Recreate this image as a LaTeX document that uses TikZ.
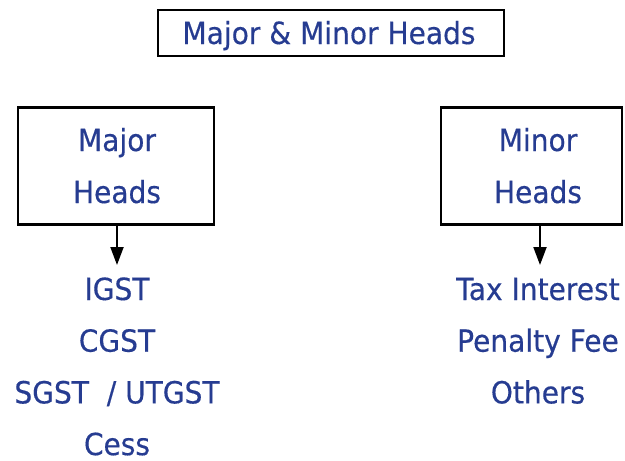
\documentclass[tikz,border=0pt]{standalone}
\usepackage{fontspec}
\setmainfont[FakeStretch=0.92,FakeBold=0.4]{DejaVu Sans}
\usetikzlibrary{arrows.meta,positioning}
\definecolor{headblue}{RGB}{38,60,145}

\begin{document}
\begin{tikzpicture}[x=1pt,y=-1pt,>={Triangle[length=18pt,width=13pt]},
    hbox/.style={draw,line width=2.8pt,inner sep=0pt},
    htext/.style={text=headblue,font=\fontsize{30.5}{36}\selectfont,anchor=base,inner sep=0pt},
    harrow/.style={->,line width=2pt}]
    \useasboundingbox (0,0) rectangle (625,461);
    % title
    \node[hbox,minimum width=346pt,minimum height=46pt] (titlebox) at (331,33) {};
    \node[htext] (title) at (329,44) {Major \& Minor Heads};
    % the two boxes
    \node[hbox,minimum width=196pt,minimum height=117pt] (majorbox) at (116,166) {};
    \node[hbox,minimum width=181pt,minimum height=117pt] (minorbox) at (531.5,166) {};
    \node[htext] (major) at (117,151) {Major};
    \node[htext] (majorheads) at (117,203) {Heads};
    \node[htext] (minor) at (538,151) {Minor};
    \node[htext] (minorheads) at (538,203) {Heads};
    % lists
    \foreach \txt [count=\i] in {IGST,CGST,{SGST\ \ / UTGST},Cess}
      \node[htext] (maj\i) at (117,{300+51.7*(\i-1)}) {\txt};
    \foreach \txt [count=\i] in {Tax Interest,Penalty Fee,Others}
      \node[htext] (min\i) at (538,{300+51.7*(\i-1)}) {\txt};
    % arrows
    \coordinate (majend) at (117,265);
    \coordinate (minend) at (540,265);
    \draw[harrow] (majend |- majorbox.south) -- (majend);
    \draw[harrow] (minend |- minorbox.south) -- (minend);
\end{tikzpicture}
\end{document}
